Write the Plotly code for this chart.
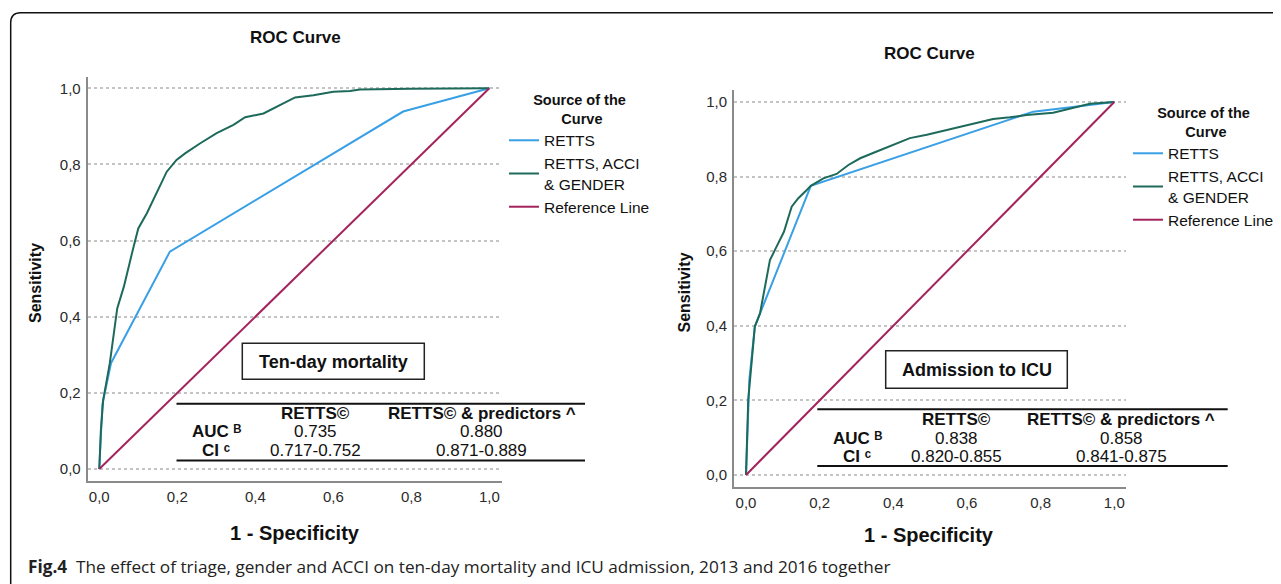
import plotly.graph_objects as go

W, H = 1281, 584
OFF = 8  # page body margin of the html page
FW, FH = W - OFF, H - OFF

# ---------------- data ----------------
tick_vals = [0, 0.2, 0.4, 0.6, 0.8, 1.0]
tick_text = ["0,0", "0,2", "0,4", "0,6", "0,8", "1,0"]

series_names = ["RETTS", "RETTS, ACCI<br>& GENDER", "Reference Line"]

# Ten-day mortality
mort_retts_fpr = [0.0, 0.008, 0.030, 0.181, 0.779, 1.0]
mort_retts_tpr = [0.0, 0.170, 0.278, 0.571, 0.939, 1.0]
mort_model_fpr = [0.0, 0.004, 0.010, 0.027, 0.046, 0.063, 0.087, 0.100, 0.122, 0.138,
                  0.173, 0.198, 0.220, 0.258, 0.301, 0.344, 0.374, 0.421, 0.463, 0.502,
                  0.549, 0.600, 0.643, 0.668, 0.800, 1.0]
mort_model_tpr = [0.0, 0.100, 0.181, 0.278, 0.422, 0.479, 0.580, 0.632, 0.672, 0.707,
                  0.781, 0.812, 0.829, 0.855, 0.882, 0.904, 0.924, 0.934, 0.956, 0.976,
                  0.982, 0.991, 0.993, 0.997, 0.999, 1.0]

# Admission to ICU
icu_retts_fpr = [0.0, 0.009, 0.024, 0.176, 0.780, 1.0]
icu_retts_tpr = [0.0, 0.255, 0.398, 0.775, 0.974, 1.0]
icu_model_fpr = [0.0, 0.006, 0.015, 0.024, 0.038, 0.055, 0.065, 0.083, 0.103, 0.124,
                 0.142, 0.165, 0.176, 0.210, 0.246, 0.278, 0.310, 0.355, 0.400, 0.445,
                 0.491, 0.536, 0.581, 0.635, 0.671, 0.717, 0.762, 0.834, 0.870, 0.934, 1.0]
icu_model_tpr = [0.0, 0.201, 0.299, 0.398, 0.433, 0.528, 0.576, 0.612, 0.652, 0.719,
                 0.742, 0.764, 0.775, 0.795, 0.807, 0.831, 0.849, 0.867, 0.885, 0.903,
                 0.912, 0.922, 0.934, 0.945, 0.954, 0.959, 0.965, 0.971, 0.980, 0.995, 1.0]

ref_line = [0.0, 1.0]

panel_labels = ["Ten-day mortality", "Admission to ICU"]
table_header = ["RETTS©", "RETTS© & predictors ^"]
table_rows = ["AUC ᴮ", "CI ᶜ"]
mort_values = [["0.735", "0.880"], ["0.717-0.752", "0.871-0.889"]]
icu_values = [["0.838", "0.858"], ["0.820-0.855", "0.841-0.875"]]

caption_bold = "Fig.4"
caption_text = "The effect of triage, gender and ACCI on ten-day mortality and ICU admission, 2013 and 2016 together"

# ---------------- style ----------------
FONT = "Liberation Sans, Arial, DejaVu Sans, sans-serif"
C_BLUE = "#3aa0e6"
C_GREEN = "#1d6a5a"
C_REF = "#a3245c"
AX_COL = "#8a8a8a"
GRID_COL = "#c4c4c4"


def X(px):
    return (px - OFF) / FW


def Y(py):
    return 1 - (py - OFF) / FH


fig = go.Figure()

panels = [
    dict(xa="x", ya="y", leg="legend",
         retts=(mort_retts_fpr, mort_retts_tpr), model=(mort_model_fpr, mort_model_tpr)),
    dict(xa="x2", ya="y2", leg="legend2",
         retts=(icu_retts_fpr, icu_retts_tpr), model=(icu_model_fpr, icu_model_tpr)),
]
for p in panels:
    fig.add_trace(go.Scatter(x=p["retts"][0], y=p["retts"][1], mode="lines", name=series_names[0],
                             line=dict(color=C_BLUE, width=2), xaxis=p["xa"], yaxis=p["ya"],
                             legend=p["leg"], hoverinfo="skip"))
    fig.add_trace(go.Scatter(x=p["model"][0], y=p["model"][1], mode="lines", name=series_names[1],
                             line=dict(color=C_GREEN, width=2), xaxis=p["xa"], yaxis=p["ya"],
                             legend=p["leg"], hoverinfo="skip"))
    fig.add_trace(go.Scatter(x=ref_line, y=ref_line, mode="lines", name=series_names[2],
                             line=dict(color=C_REF, width=2), xaxis=p["xa"], yaxis=p["ya"],
                             legend=p["leg"], hoverinfo="skip"))


def xaxis_style(domain, rng):
    return dict(domain=domain, range=rng, tickvals=tick_vals, ticktext=tick_text,
                showgrid=False, zeroline=False, showline=True, linecolor=AX_COL, linewidth=2,
                ticks="", ticklabelstandoff=1, tickfont=dict(family=FONT, size=15, color="#2a2a2a"),
                fixedrange=True)


def yaxis_style(domain, rng, anchor):
    return dict(domain=domain, range=rng, tickvals=tick_vals, ticktext=tick_text, anchor=anchor,
                showgrid=True, gridcolor=GRID_COL, gridwidth=1.5, griddash="dot",
                zeroline=False, showline=True, linecolor=AX_COL, linewidth=2,
                ticks="", ticklabelstandoff=2, tickfont=dict(family=FONT, size=15, color="#2a2a2a"),
                fixedrange=True)


legend_common = dict(
    bgcolor="rgba(0,0,0,0)", borderwidth=0, xanchor="left", yanchor="top",
    font=dict(family=FONT, size=15.5, color="#111"), itemwidth=30,
    title=dict(text="Source of the<br>" + "&nbsp;" * 7 + "Curve", side="top center",
               font=dict(family=FONT, size=14.5, color="#111", weight="bold")),
    itemclick=False, itemdoubleclick=False,
)

fig.update_layout(
    width=FW, height=FH, margin=dict(l=0, r=0, t=0, b=0, pad=0),
    paper_bgcolor="white", plot_bgcolor="white",
    xaxis=xaxis_style([X(87.7), X(501.8)], [-0.0297, 1.032]),
    yaxis=yaxis_style([Y(480.7), Y(76.7)], [-0.0307, 1.0305], "x"),
    xaxis2=dict(xaxis_style([X(734), X(1126)], [-0.0326, 1.0318]), anchor="y2"),
    yaxis2=yaxis_style([Y(486.7), Y(90)], [-0.0314, 1.032], "x2"),
    legend=dict(legend_common, x=X(504), y=Y(86)),
    legend2=dict(legend_common, x=X(1128), y=Y(99)),
    showlegend=True,
)

annotations = []
shapes = []


def txt(s, x, y, size, bold=False, angle=0, xanchor="center", family=FONT, color="#111"):
    annotations.append(dict(text=s, x=X(x), y=Y(y), xref="paper", yref="paper",
                            xanchor=xanchor, yanchor="middle", showarrow=False, textangle=angle,
                            font=dict(family=family, size=size, color=color,
                                      weight="bold" if bold else "normal")))


# titles
txt("ROC Curve", 295, 37.7, 17, bold=True)
txt("ROC Curve", 929.3, 53.3, 17, bold=True)
txt("1 - Specificity", 295, 533.3, 20, bold=True)
txt("1 - Specificity", 929.3, 535, 20, bold=True)
txt("Sensitivity", 35, 283, 16, bold=True, angle=-90)
txt("Sensitivity", 683.5, 293, 16, bold=True, angle=-90)

# panel label boxes
boxes = [(242.3, 343.3, 424.3, 379.3), (885.7, 350.7, 1067.3, 388.3)]
for (x0, y0, x1, y1), lab in zip(boxes, panel_labels):
    shapes.append(dict(type="rect", xref="paper", yref="paper", x0=X(x0), x1=X(x1), y0=Y(y1), y1=Y(y0),
                       line=dict(color="#222", width=1.5), fillcolor="white"))
    txt(lab, (x0 + x1) / 2, (y0 + y1) / 2 + 0.5, 18, bold=True)

# tables
tables = [
    dict(x0=176.5, x1=585, top=403.7, bot=460.5, rows=[413.5, 431.7, 450.0],
         lab=216.5, c1=315.5, c2=481.5, vals=mort_values),
    dict(x0=817.3, x1=1227.7, top=409.3, bot=466.0, rows=[419.3, 438.3, 456.7],
         lab=857.5, c1=956.5, c2=1121.0, vals=icu_values),
]
for t in tables:
    for yy in (t["top"], t["bot"]):
        shapes.append(dict(type="line", xref="paper", yref="paper", x0=X(t["x0"]), x1=X(t["x1"]),
                           y0=Y(yy), y1=Y(yy), line=dict(color="#111", width=2)))
    txt(table_header[0], t["c1"], t["rows"][0], 17, bold=True)
    txt(table_header[1], t["c2"], t["rows"][0], 17, bold=True)
    for i, rl in enumerate(table_rows):
        txt(rl, t["lab"], t["rows"][i + 1], 17, bold=True)
        txt(t["vals"][i][0], t["c1"], t["rows"][i + 1], 17)
        txt(t["vals"][i][1], t["c2"], t["rows"][i + 1], 17)

# outer rounded frame
r = 10
fx, fy = 10.7, 12.7
path = (f"M {X(1300)},{Y(fy)} L {X(fx + r)},{Y(fy)} Q {X(fx)},{Y(fy)} {X(fx)},{Y(fy + r)} "
        f"L {X(fx)},{Y(600)}")
shapes.append(dict(type="path", xref="paper", yref="paper", path=path,
                   line=dict(color="#111", width=1.5)))

# caption
annotations.append(dict(text=f"<b>{caption_bold}</b>  {caption_text}", x=X(26), y=Y(566.5),
                        xref="paper", yref="paper", xanchor="left", yanchor="middle",
                        showarrow=False,
                        font=dict(family="Open Sans, Noto Sans, sans-serif", size=17.2, color="#222")))

fig.update_layout(annotations=annotations, shapes=shapes)

fig.write_html("out.html")
